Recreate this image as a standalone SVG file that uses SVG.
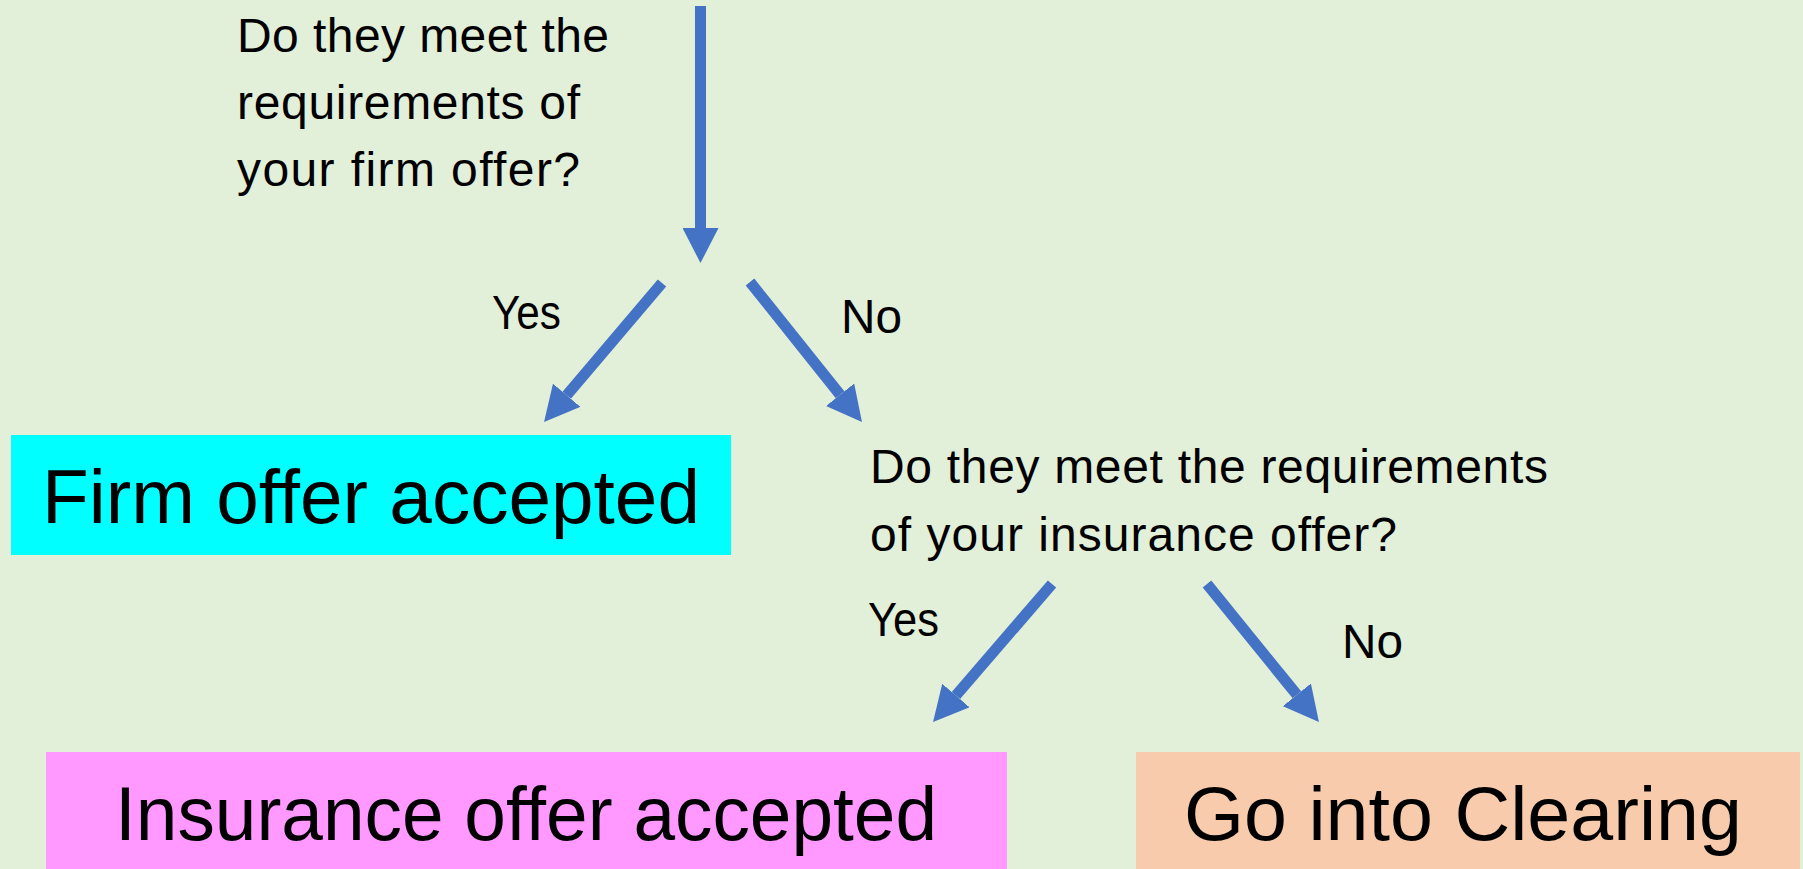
<svg xmlns="http://www.w3.org/2000/svg" width="1803" height="869" viewBox="0 0 1803 869">
<style>
.t{font-family:"Liberation Sans",Arial,sans-serif;fill:#000}
.q{font-size:48px}
.yn{font-size:48px}
.big{font-size:76px}
.conn{stroke:#4472C4;stroke-width:11;fill:none}
</style>
<defs>
<marker id="ah" markerUnits="userSpaceOnUse" viewBox="0 -18 35 36" refX="0" refY="0" markerWidth="35" markerHeight="36" orient="auto">
<path d="M0,-18 L35,0 L0,18 Z" fill="#4472C4"/>
</marker>
</defs>
<rect x="0" y="0" width="1803" height="869" fill="#E2EFD9"/>
<g id="connectors">
<line class="conn" x1="700.5" y1="6" x2="700.5" y2="228" marker-end="url(#ah)"/>
<line class="conn" x1="662" y1="283" x2="566.7" y2="395.3" marker-end="url(#ah)"/>
<line class="conn" x1="750" y1="282" x2="840.1" y2="394.7" marker-end="url(#ah)"/>
<line class="conn" x1="1052" y1="584" x2="955.9" y2="695.5" marker-end="url(#ah)"/>
<line class="conn" x1="1207" y1="584" x2="1296.9" y2="694.8" marker-end="url(#ah)"/>
</g>
<g id="q1">
<text class="t q" x="237" y="52" textLength="372">Do they meet the</text>
<text class="t q" x="237" y="119" textLength="343">requirements of</text>
<text class="t q" x="237" y="186" textLength="343">your firm offer?</text>
</g>
<g id="yes1"><text class="t yn" x="492" y="329" textLength="69" lengthAdjust="spacingAndGlyphs">Yes</text></g>
<g id="no1"><text class="t yn" x="841" y="333" textLength="61" lengthAdjust="spacingAndGlyphs">No</text></g>
<g id="firm">
<rect x="11" y="435" width="720" height="120" fill="#00FFFF"/>
<text class="t big" x="42" y="523" textLength="658" lengthAdjust="spacingAndGlyphs">Firm offer accepted</text>
</g>
<g id="q2">
<text class="t q" x="870" y="483" textLength="678">Do they meet the requirements</text>
<text class="t q" x="870" y="551" textLength="527">of your insurance offer?</text>
</g>
<g id="yes2"><text class="t yn" x="868" y="636" textLength="71" lengthAdjust="spacingAndGlyphs">Yes</text></g>
<g id="no2"><text class="t yn" x="1342" y="658" textLength="61" lengthAdjust="spacingAndGlyphs">No</text></g>
<g id="insurance">
<rect x="46" y="752" width="961" height="117" fill="#FF99FF"/>
<text class="t big" x="115" y="840" textLength="822" lengthAdjust="spacingAndGlyphs">Insurance offer accepted</text>
</g>
<g id="clearing">
<rect x="1136" y="752" width="664" height="117" fill="#F8CBAD"/>
<text class="t big" x="1184" y="840" textLength="558" lengthAdjust="spacingAndGlyphs">Go into Clearing</text>
</g>
</svg>
